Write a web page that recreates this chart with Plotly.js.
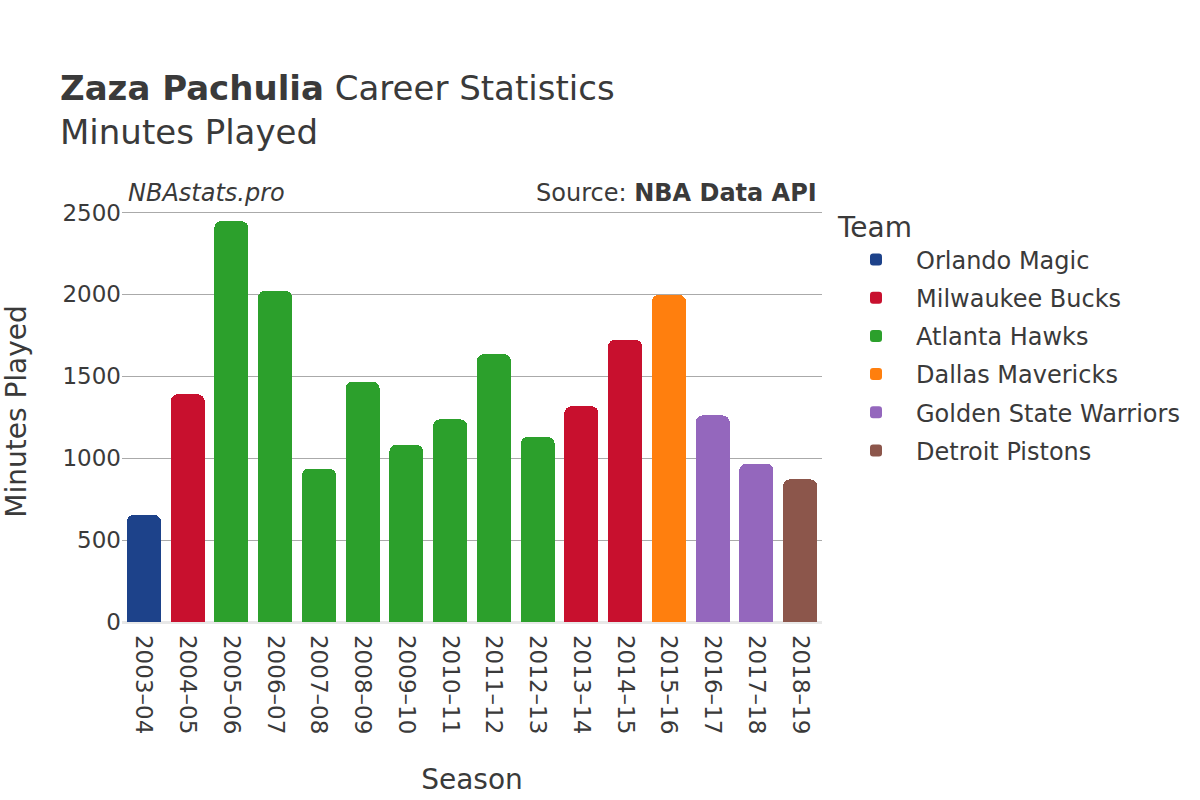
<!DOCTYPE html>
<html>
<head>
<meta charset="utf-8">
<script src="https://cdn.plot.ly/plotly-3.0.1.min.js"></script>
<style>html,body{margin:0;padding:0;background:#fff;}#chart{width:1200px;height:800px;}</style>
</head>
<body>
<div id="chart"></div>
<script>
var seasons = ["2003–04","2004–05","2005–06","2006–07","2007–08","2008–09","2009–10","2010–11","2011–12","2012–13","2013–14","2014–15","2015–16","2016–17","2017–18","2018–19"];
var minutes = [655, 1390, 2447, 2023, 937, 1467, 1081, 1237, 1635, 1129, 1317, 1724, 1998, 1261, 967, 871];
var teams = ["Orlando Magic","Milwaukee Bucks","Atlanta Hawks","Atlanta Hawks","Atlanta Hawks","Atlanta Hawks","Atlanta Hawks","Atlanta Hawks","Atlanta Hawks","Atlanta Hawks","Milwaukee Bucks","Milwaukee Bucks","Dallas Mavericks","Golden State Warriors","Golden State Warriors","Detroit Pistons"];
var teamOrder = ["Orlando Magic","Milwaukee Bucks","Atlanta Hawks","Dallas Mavericks","Golden State Warriors","Detroit Pistons"];
var teamColors = ["#1d428a","#c8102e","#2ca02c","#ff7f0e","#9467bd","#8c564b"];

var traces = teamOrder.map(function(team, ti){
  var xs = [], ys = [];
  for (var i = 0; i < seasons.length; i++) {
    if (teams[i] === team) { xs.push(seasons[i]); ys.push(minutes[i]); }
  }
  return {
    type: "bar", name: team, x: xs, y: ys, legendgroup: team,
    marker: {color: teamColors[ti], cornerradius: 7},
    hovertemplate: "%{x}: %{y}<extra>" + team + "</extra>"
  };
});

var font = "DejaVu Sans, Verdana, sans-serif";
var layout = {
  width: 1200, height: 800,
  font: {family: font, color: "#3a3a3a", size: 23},
  paper_bgcolor: "#fff", plot_bgcolor: "#fff",
  margin: {l: 122, r: 378, t: 201, b: 178},
  barmode: "stack", bargap: 0.22,
  title: {
    text: "<b>Zaza Pachulia</b> Career Statistics<br>Minutes Played",
    font: {family: font, size: 34, color: "#3a3a3a"},
    x: 0.05, xanchor: "left", y: 0.875, yanchor: "top"
  },
  xaxis: {
    type: "category", categoryorder: "array", categoryarray: seasons,
    tickangle: 90, tickfont: {size: 23}, ticklabelstandoff: 12,
    title: {text: "Season", font: {size: 28}, standoff: 36},
    showgrid: false, ticks: "", fixedrange: true
  },
  yaxis: {
    range: [0, 2570], tickvals: [0, 500, 1000, 1500, 2000, 2500],
    tickfont: {size: 23},
    title: {text: "Minutes Played", font: {size: 28}, standoff: 30},
    showgrid: true, gridcolor: "#aaaaaa", gridwidth: 1,
    zeroline: true, zerolinecolor: "#e8e8e8", zerolinewidth: 3,
    ticks: ""
  },
  legend: {
    title: {text: "Team", font: {size: 28}},
    traceorder: "grouped",
    x: 1.02, xanchor: "left", y: 1.0, yanchor: "top",
    font: {size: 24}, tracegroupgap: 4, itemwidth: 70
  },
  annotations: [
    {text: "<i>NBAstats.pro</i>", xref: "paper", yref: "paper", x: 0.005, y: 0.98, xanchor: "left", yanchor: "bottom", showarrow: false, font: {size: 24, color: "#3a3a3a"}},
    {text: "Source: <b>NBA Data API</b>", xref: "paper", yref: "paper", x: 0.995, y: 0.98, xanchor: "right", yanchor: "bottom", showarrow: false, font: {size: 24, color: "#3a3a3a"}}
  ]
};

Plotly.newPlot("chart", traces, layout, {displayModeBar: false, staticPlot: true});
</script>
</body>
</html>
